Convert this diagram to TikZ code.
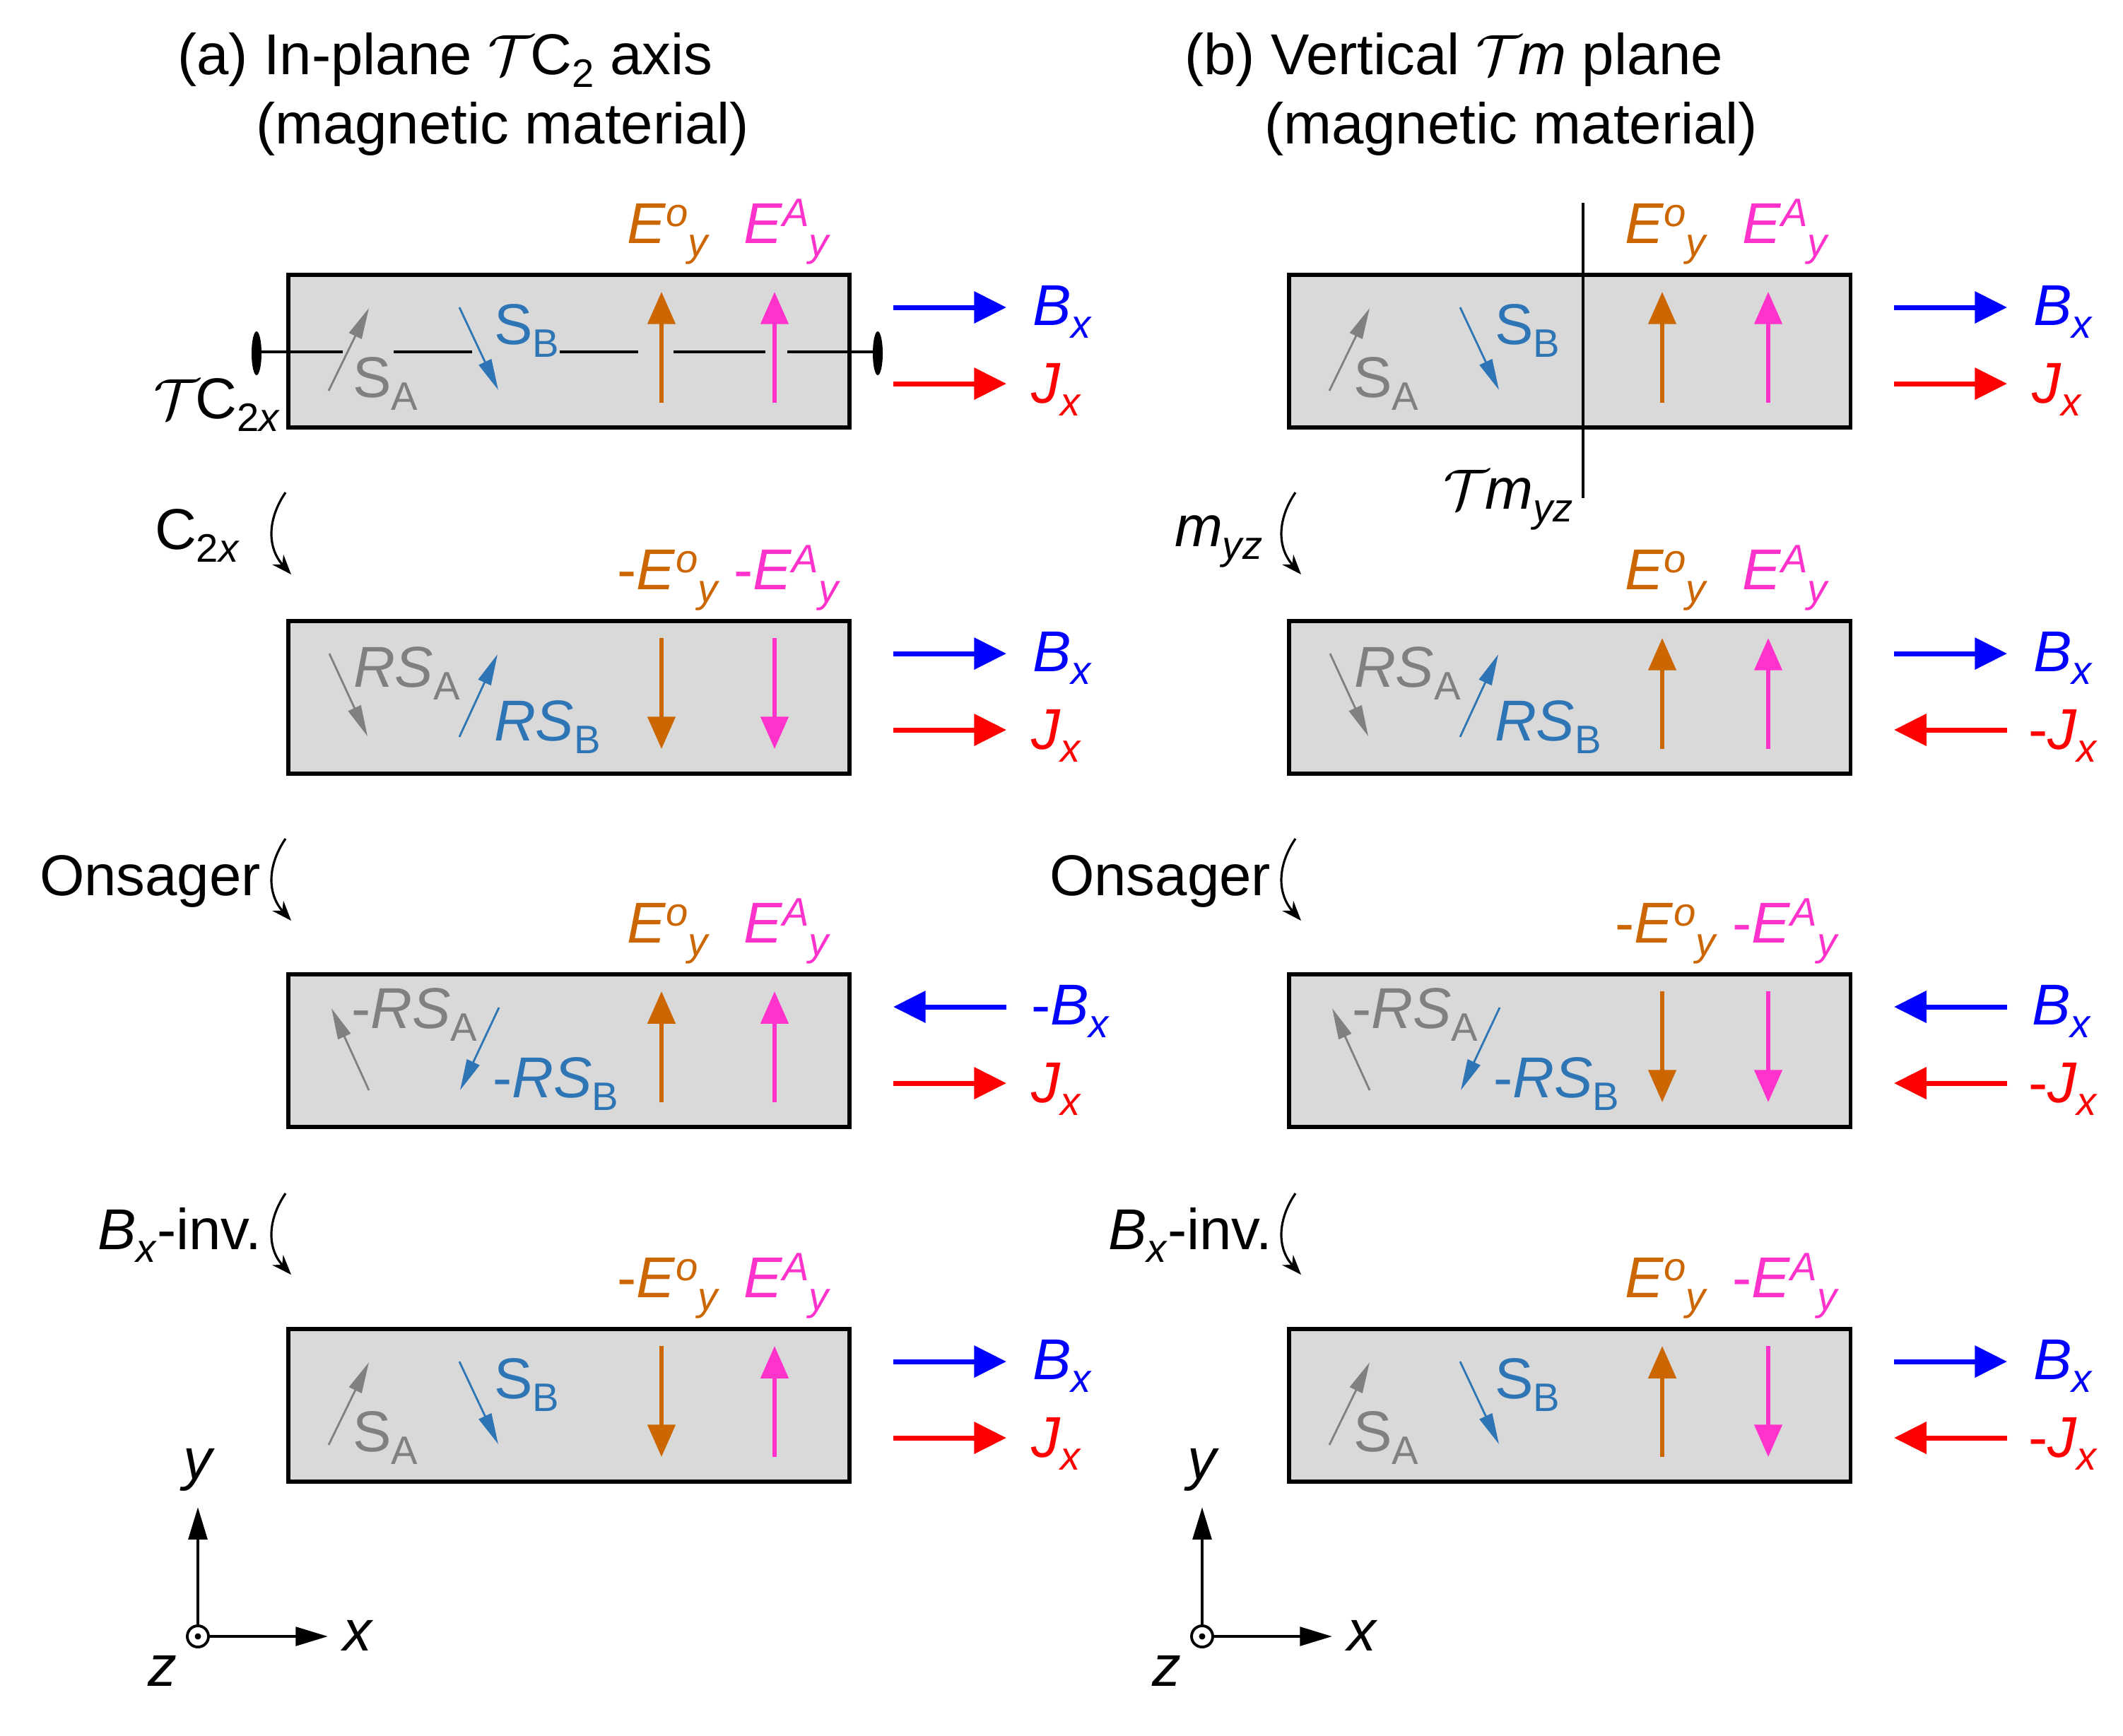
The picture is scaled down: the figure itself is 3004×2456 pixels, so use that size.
\documentclass[tikz,border=0pt]{standalone}
\usepackage{fontspec}
\usepackage{graphicx}
\setmainfont{Liberation Sans}
\usetikzlibrary{arrows.meta}

\definecolor{spinA}{HTML}{808080}
\definecolor{spinB}{HTML}{2E75B6}
\definecolor{eo}{HTML}{CC6600}
\definecolor{ea}{HTML}{FF33CC}
\definecolor{bcol}{HTML}{0000FF}
\definecolor{jcol}{HTML}{FF0000}
\definecolor{boxfill}{HTML}{D9D9D9}

\newcommand\mysub[1]{\raisebox{-5.3pt}{\fontsize{16}{16}\selectfont #1}}
\newcommand\mysup[1]{\raisebox{6.8pt}{\fontsize{16}{16}\selectfont #1}}
\newcommand\tEo{\textit{E}\mysup{\textit{o}}\mysub{\textit{y}}}
\newcommand\tEA{\textit{E}\mysup{\textit{A}}\mysub{\textit{y}}}
\newcommand\tBx{\textit{B}\mysub{\textit{x}}}
\newcommand\tJx{\textit{J}\mysub{\textit{x}}}
\newcommand\calT{\scalebox{0.92}{$\mathcal{T}$}\kern-0.06em}

% spin configurations (inside a shifted scope)
\newcommand\spinsN[1]{%
  \draw[spin,spinA] (57,164) -- (114,47);
  \node[lab,text=spinA] (#1-sa) at (91,173) {S\mysub{A}};
  \draw[spin,spinB] (242,46) -- (297,163);
  \node[lab,text=spinB] (#1-sb) at (291,98) {S\mysub{B}};}
\newcommand\spinsR[1]{%
  \draw[spin,spinA] (58,46) -- (112,163);
  \node[lab,text=spinA] (#1-sa) at (92,93) {\textit{RS}\mysub{A}};
  \draw[spin,spinB] (242,164) -- (296,47);
  \node[lab,text=spinB] (#1-sb) at (291,169) {\textit{RS}\mysub{B}};}
\newcommand\spinsM[1]{%
  \draw[spin,spinA] (114,164) -- (61,48);
  \node[lab,text=spinA] (#1-sa) at (89,76) {-\textit{RS}\mysub{A}};
  \draw[spin,spinB] (298,47) -- (243,164);
  \node[lab,text=spinB] (#1-sb) at (289,174) {-\textit{RS}\mysub{B}};}

\newcommand\EoU{\draw[earrow,eo] (\eox,181) -- (\eox,24);}
\newcommand\EoD{\draw[earrow,eo] (\eox,24) -- (\eox,181);}
\newcommand\EaU{\draw[earrow,ea] (\magx,181) -- (\magx,24);}
\newcommand\EaD{\draw[earrow,ea] (\magx,24) -- (\magx,181);}
\newcommand\Elabs[3]{%
  \node[elab,text=eo] (#1-el) at (\eolx,-45) {#2};
  \node[elab,text=ea] (#1-al) at (\maglab,-45) {#3};}

\newcommand\Br[2]{\draw[bj,bcol] (856,46) -- (1016,46); \node[lab,text=bcol] (#1-b) at (1053,71) {#2};}
\newcommand\Bl[2]{\draw[bj,bcol] (1016,46) -- (856,46); \node[lab,text=bcol] (#1-b) at (1051,71) {#2};}
\newcommand\Jr[2]{\draw[bj,jcol] (856,154) -- (1016,154); \node[lab,text=jcol] (#1-j) at (1051,181) {#2};}
\newcommand\Jl[2]{\draw[bj,jcol] (1016,154) -- (856,154); \node[lab,text=jcol] (#1-j) at (1046,181) {#2};}

\begin{document}
\begin{tikzpicture}[x=0.01cm,y=-0.01cm,
  every node/.style={font=\fontsize{23.2}{28}\selectfont, inner sep=0pt, outer sep=0pt},
  matbox/.style={draw, line width=1.7pt, fill=boxfill, minimum width=7.94cm, minimum height=2.16cm, anchor=north west},
  spin/.style={line width=0.8pt, -{Triangle[length=12.5pt,width=5.5pt]}},
  earrow/.style={line width=1.6pt, -{Triangle[length=13pt,width=11pt]}},
  bj/.style={line width=2pt, -{Triangle[length=13pt,width=12.5pt]}},
  curv/.style={line width=0.9pt, -{Stealth[length=8pt,width=6pt]}},
  axisarr/.style={line width=1.3pt, -{Triangle[length=13pt,width=7.5pt]}},
  lab/.style={anchor=base west},
  elab/.style={anchor=base},
  symline/.style={line width=1.3pt, black},
  zcirc/.style={circle, draw, line width=1.1pt, minimum size=0.3cm, fill=white},
]
\useasboundingbox (0,0) rectangle (3004,2456);

% ---------------- titles ----------------
\node[lab] (ta1) at (251,105) {(a) In-plane \calT C\mysub{2} axis};
\node[lab] (ta2) at (362,203) {(magnetic material)};
\node[lab] (tb1) at (1676,105) {(b) Vertical \calT\textit{m} plane};
\node[lab] (tb2) at (1789,203) {(magnetic material)};

% ================= LEFT PANEL =================
\def\eox{528}\def\eolx{538}\def\magx{688}\def\maglab{706}

% row 1
\begin{scope}[shift={(408,389)}]
  \node[matbox] (L1) at (0,0) {};
  % TC2x axis
  \draw[symline] (-45,109) -- (77,109);
  \draw[symline] (149,109) -- (260,109);
  \draw[symline] (384,109) -- (495,109);
  \draw[symline] (545,109) -- (675,109);
  \draw[symline] (706,109) -- (834,109);
  \fill (-45,111) ellipse [x radius=7, y radius=31];
  \fill (834,111) ellipse [x radius=7, y radius=31];
  \spinsN{L1}
  \EoU \EaU
  \Elabs{L1}{\tEo}{\tEA}
  \Br{L1}{\tBx}
  \Jr{L1}{\tJx}
\end{scope}
\node[lab] (tc2x) at (217,592) {\calT C\mysub{2\textit{x}}};

% row 2
\begin{scope}[shift={(408,879)}]
  \node[matbox] (L2) at (0,0) {};
  \spinsR{L2}
  \EoD \EaD
  \Elabs{L2}{-\tEo}{-\tEA}
  \Br{L2}{\tBx}
  \Jr{L2}{\tJx}
\end{scope}

% row 3
\begin{scope}[shift={(408,1379)}]
  \node[matbox] (L3) at (0,0) {};
  \spinsM{L3}
  \EoU \EaU
  \Elabs{L3}{\tEo}{\tEA}
  \Bl{L3}{-\tBx}
  \Jr{L3}{\tJx}
\end{scope}

% row 4
\begin{scope}[shift={(408,1881)}]
  \node[matbox] (L4) at (0,0) {};
  \spinsN{L4}
  \EoD \EaU
  \Elabs{L4}{-\tEo}{\tEA}
  \Br{L4}{\tBx}
  \Jr{L4}{\tJx}
\end{scope}

% transitions left
\node[lab] (lt1) at (219,777) {C\mysub{2\textit{x}}};
\draw[curv] (404,697) .. controls (378,735) and (378,775) .. (412,813);
\node[lab] (lt2) at (56,1267) {Onsager};
\draw[curv] (404,1187) .. controls (378,1225) and (378,1265) .. (412,1303);
\node[lab] (lt3) at (138,1768) {\textit{B}\mysub{\textit{x}}-inv.};
\draw[curv] (404,1689) .. controls (378,1727) and (378,1767) .. (412,1804);

% axes left
\node[zcirc] (Lo) at (280,2316) {};
\fill (Lo.center) circle [radius=4.5];
\coordinate (Ly) at (280,2133);
\coordinate (Lx) at (464,2316);
\draw[axisarr] (Lo.north) -- (Ly);
\draw[axisarr] (Lo.east) -- (Lx);
\node[elab] (Lyl) at (282,2093) {\textit{y}};
\node[lab] (Lxl) at (485,2336) {\textit{x}};
\node[lab] (Lzl) at (209,2386) {\textit{z}};

% ================= RIGHT PANEL =================
\def\eox{528}\def\eolx{534}\def\magx{678}\def\maglab{703}

% row 1
\begin{scope}[shift={(1824,389)}]
  \node[matbox] (R1) at (0,0) {};
  \spinsN{R1}
  \EoU \EaU
  \Elabs{R1}{\tEo}{\tEA}
  \Br{R1}{\tBx}
  \Jr{R1}{\tJx}
\end{scope}
\coordinate (mtop) at (2240,287);
\coordinate (mbot) at (2240,705);
\draw[line width=1.2pt] (mtop) -- (mbot);
\node[anchor=base east] (tmyz) at (2226,720) {\calT\textit{m}\mysub{\textit{yz}}};

% row 2
\begin{scope}[shift={(1824,879)}]
  \node[matbox] (R2) at (0,0) {};
  \spinsR{R2}
  \EoU \EaU
  \Elabs{R2}{\tEo}{\tEA}
  \Br{R2}{\tBx}
  \Jl{R2}{-\tJx}
\end{scope}

% row 3
\begin{scope}[shift={(1824,1379)}]
  \node[matbox] (R3) at (0,0) {};
  \spinsM{R3}
  \EoD \EaD
  \Elabs{R3}{-\tEo}{-\tEA}
  \Bl{R3}{\tBx}
  \Jl{R3}{-\tJx}
\end{scope}

% row 4
\begin{scope}[shift={(1824,1881)}]
  \node[matbox] (R4) at (0,0) {};
  \spinsN{R4}
  \EoU \EaD
  \Elabs{R4}{\tEo}{-\tEA}
  \Br{R4}{\tBx}
  \Jl{R4}{-\tJx}
\end{scope}

% transitions right
\node[lab] (rt1) at (1662,773) {\textit{m}\mysub{\textit{yz}}};
\draw[curv] (1833,697) .. controls (1807,735) and (1807,775) .. (1841,813);
\node[lab] (rt2) at (1485,1267) {Onsager};
\draw[curv] (1833,1187) .. controls (1807,1225) and (1807,1265) .. (1841,1303);
\node[lab] (rt3) at (1568,1768) {\textit{B}\mysub{\textit{x}}-inv.};
\draw[curv] (1833,1689) .. controls (1807,1727) and (1807,1767) .. (1841,1804);

% axes right
\node[zcirc] (Ro) at (1701,2316) {};
\fill (Ro.center) circle [radius=4.5];
\coordinate (Ry) at (1701,2133);
\coordinate (Rx) at (1885,2316);
\draw[axisarr] (Ro.north) -- (Ry);
\draw[axisarr] (Ro.east) -- (Rx);
\node[elab] (Ryl) at (1703,2093) {\textit{y}};
\node[lab] (Rxl) at (1906,2336) {\textit{x}};
\node[lab] (Rzl) at (1630,2386) {\textit{z}};
\end{tikzpicture}
\end{document}
